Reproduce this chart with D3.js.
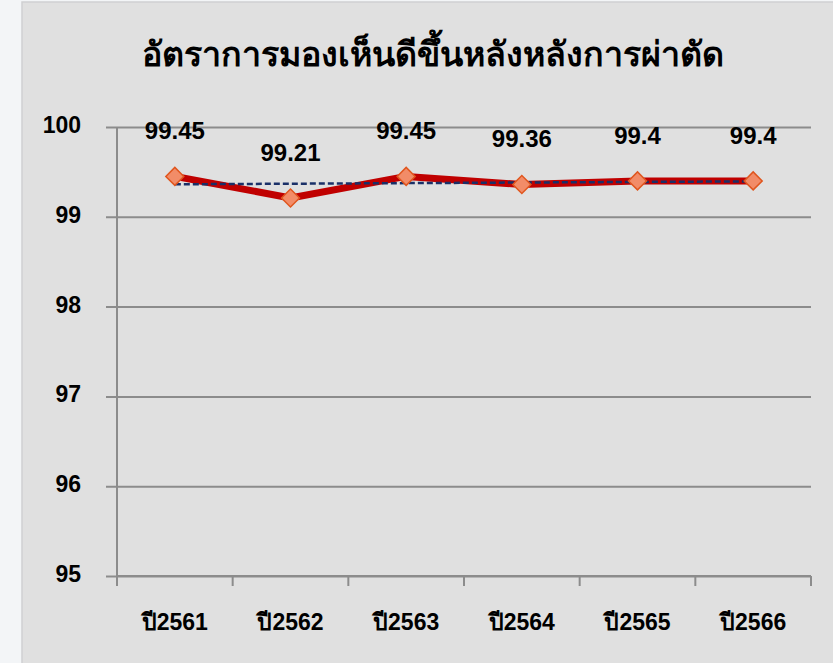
<!DOCTYPE html>
<html>
<head>
<meta charset="utf-8">
<script src="https://cdn.jsdelivr.net/npm/d3@7"></script>
<style>
  html, body { margin: 0; padding: 0; background: #f3f5f7; }
  svg { display: block; font-family: "Liberation Sans", Arial, sans-serif; }
</style>
</head>
<body>
<svg id="chart" width="833" height="663"></svg>
<script>
const title = "อัตราการมองเห็นดีขึ้นหลังหลังการผ่าตัด";
const years = ["ปี2561", "ปี2562", "ปี2563", "ปี2564", "ปี2565", "ปี2566"];
const rates = [99.45, 99.21, 99.45, 99.36, 99.4, 99.4];
const yTicks = [95, 96, 97, 98, 99, 100];

const svg = d3.select("#chart");

// gray panel behind everything
svg.append("rect")
  .attr("x", 22).attr("y", 2)
  .attr("width", 812).attr("height", 662)
  .attr("fill", "#e0e0e0")
  .attr("stroke", "#cfd0d2").attr("stroke-width", 1.5);

const margin = { left: 117, right: 22, top: 127, bottom: 87 };
const width = 833 - margin.left - margin.right;
const height = 663 - margin.top - margin.bottom;

const g = svg.append("g")
  .attr("transform", "translate(" + margin.left + "," + margin.top + ")");

const x = d3.scaleBand().domain(years).range([0, width]);
const y = d3.scaleLinear().domain([95, 100]).range([height, 0]);

// title
svg.append("text")
  .attr("x", 433).attr("y", 66)
  .attr("text-anchor", "middle")
  .attr("font-size", 34).attr("font-weight", "bold")
  .attr("fill", "#000")
  .text(title);

// gridlines with little outer ticks
g.append("g")
  .call(d3.axisLeft(y).tickValues(yTicks).tickSize(-width - 11).tickFormat(""))
  .attr("transform", "translate(-11,0)")
  .call(s => s.select(".domain").remove())
  .selectAll("line").attr("stroke", "#8c8c8c").attr("stroke-width", 2)
  .attr("x1", 0).attr("x2", width + 11);

// y axis line
g.append("line")
  .attr("x1", 0).attr("x2", 0).attr("y1", 0).attr("y2", height)
  .attr("stroke", "#8c8c8c").attr("stroke-width", 2);

// y labels
g.selectAll(".ylab")
  .data(yTicks)
  .enter().append("text")
  .attr("class", "ylab")
  .attr("x", -36).attr("y", d => y(d) + 6)
  .attr("text-anchor", "end")
  .attr("font-size", 23).attr("font-weight", "bold")
  .text(d => d);

// x axis with tick marks at band edges
const xAxis = g.append("g").attr("transform", "translate(0," + height + ")");
xAxis.append("line")
  .attr("x1", 0).attr("x2", width)
  .attr("stroke", "#8c8c8c").attr("stroke-width", 2);
xAxis.selectAll(".xt")
  .data(years.concat(["end"]))
  .enter().append("line")
  .attr("x1", (d, i) => i < years.length ? x(d) : width)
  .attr("x2", (d, i) => i < years.length ? x(d) : width)
  .attr("y1", 0).attr("y2", 10)
  .attr("stroke", "#8c8c8c").attr("stroke-width", 2);
xAxis.selectAll(".xlab")
  .data(years)
  .enter().append("text")
  .attr("x", d => x(d) + x.bandwidth() / 2)
  .attr("y", 54)
  .attr("text-anchor", "middle")
  .attr("font-size", 23).attr("font-weight", "bold")
  .text(d => d);

const cx = (d, i) => x(years[i]) + x.bandwidth() / 2;

// data line
g.append("path")
  .datum(rates)
  .attr("fill", "none")
  .attr("stroke", "#c00000")
  .attr("stroke-width", 7)
  .attr("stroke-linejoin", "round")
  .attr("d", d3.line().x(cx).y(d => y(d)));

// linear trend line
const n = rates.length;
const mx = d3.mean(rates, (d, i) => i);
const my = d3.mean(rates);
const slope = d3.sum(rates, (d, i) => (i - mx) * (d - my)) / d3.sum(rates, (d, i) => (i - mx) * (i - mx));
const trend = [0, n - 1].map(i => my + slope * (i - mx));
g.append("line")
  .attr("x1", cx(null, 0)).attr("x2", cx(null, n - 1))
  .attr("y1", y(trend[0])).attr("y2", y(trend[1]))
  .attr("stroke", "#1a3068")
  .attr("stroke-width", 2.5)
  .attr("stroke-dasharray", "6,3");

// diamond markers
g.selectAll(".pt")
  .data(rates)
  .enter().append("path")
  .attr("d", d3.symbol().type(d3.symbolSquare).size(162))
  .attr("transform", (d, i) => "translate(" + cx(d, i) + "," + y(d) + ") rotate(45)")
  .attr("fill", "#f28c68")
  .attr("stroke", "#e0561e")
  .attr("stroke-width", 1.5);

// value labels
g.selectAll(".val")
  .data(rates)
  .enter().append("text")
  .attr("x", cx)
  .attr("y", d => y(d) - 37)
  .attr("text-anchor", "middle")
  .attr("font-size", 24).attr("font-weight", "bold")
  .text(d => d);
</script>
</body>
</html>
